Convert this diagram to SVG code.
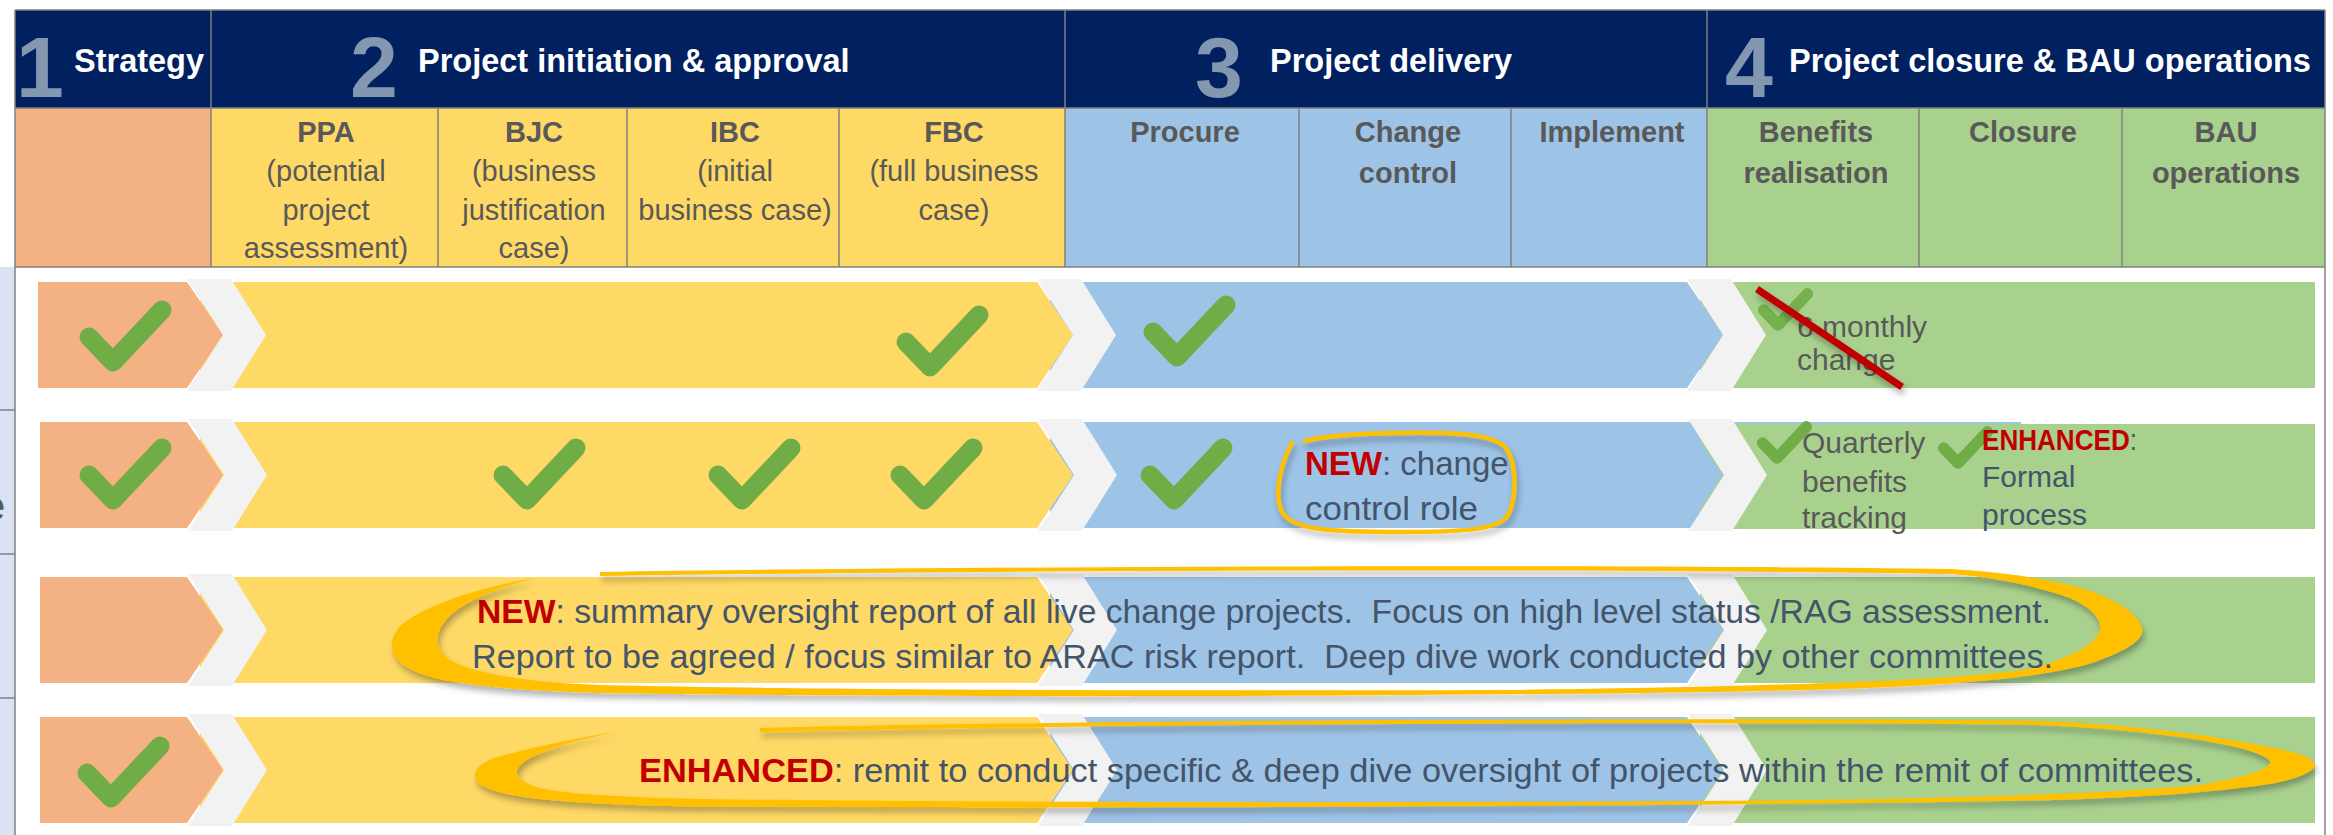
<svg xmlns="http://www.w3.org/2000/svg" width="2333" height="835" viewBox="0 0 2333 835">
<defs>
<style>
.t{font-family:'Liberation Sans',Arial,sans-serif}
.hd{font-size:32.5px;font-weight:bold;fill:#ffffff}
.num{font-size:86px;font-weight:bold;fill:#8497B0;text-anchor:middle}
.sb{font-size:29px;font-weight:bold;fill:#595959;text-anchor:middle}
.sr{font-size:29px;fill:#595959;text-anchor:middle}
.g{fill:#595959;font-size:30px}
.sl{fill:#44546A;font-size:30px}
.an{fill:#44546A;font-size:33px}
.red{fill:#C00000;font-weight:bold}
.ck{fill:none;stroke:#70AD47;stroke-width:19;stroke-linecap:round;stroke-linejoin:round}
.chev{fill:#F2F2F2}
.grid{stroke:#808080;stroke-width:1.5;fill:none}
.or{fill:#F4B183}.ye{fill:#FFD966}.bl{fill:#9DC3E6}.gr{fill:#A9D18E}
.brush{fill:#FFC000}
</style>
<path id="chk" d="M-24,-25 L0,0 L49,-52"/>
<filter id="sh" x="-10%" y="-30%" width="120%" height="170%">
<feDropShadow dx="2" dy="5" stdDeviation="3" flood-color="#000000" flood-opacity="0.3"/>
</filter>
</defs>

<rect width="2333" height="835" fill="#ffffff"/>

<!-- left side strip -->
<g id="side-strip">
<rect x="0" y="267" width="15" height="568" fill="#DAE3F3"/>
<line x1="0" y1="410" x2="15" y2="410" class="grid"/>
<line x1="0" y1="554" x2="15" y2="554" class="grid"/>
<line x1="0" y1="698" x2="15" y2="698" class="grid"/>
<text class="t" x="-17" y="520" font-size="40" fill="#595959">e</text>
</g>

<!-- header row -->
<g id="header">
<rect x="15" y="10" width="2310" height="98" fill="#002060"/>
<g id="phase1-title">
<text class="t num" x="40" y="97">1</text>
<text class="t hd" x="74" y="72">Strategy</text>
</g>
<g id="phase2-title">
<text class="t num" x="374" y="97">2</text>
<text class="t hd" x="418" y="72">Project initiation &amp; approval</text>
</g>
<g id="phase3-title">
<text class="t num" x="1219" y="97">3</text>
<text class="t hd" x="1270" y="72">Project delivery</text>
</g>
<g id="phase4-title">
<text class="t num" x="1749" y="97">4</text>
<text class="t hd" x="1789" y="72">Project closure &amp; BAU operations</text>
</g>
</g>

<!-- sub header -->
<g id="subheader">
<rect x="15" y="108" width="196" height="159" class="or"/>
<rect x="211" y="108" width="854" height="159" class="ye"/>
<rect x="1065" y="108" width="642" height="159" class="bl"/>
<rect x="1707" y="108" width="618" height="159" class="gr"/>
<g id="col-ppa">
<text class="t sb" x="326" y="142">PPA</text>
<text class="t sr" x="326" y="181">(potential</text>
<text class="t sr" x="326" y="220">project</text>
<text class="t sr" x="326" y="258">assessment)</text>
</g>
<g id="col-bjc">
<text class="t sb" x="534" y="142">BJC</text>
<text class="t sr" x="534" y="181">(business</text>
<text class="t sr" x="534" y="220">justification</text>
<text class="t sr" x="534" y="258">case)</text>
</g>
<g id="col-ibc">
<text class="t sb" x="735" y="142">IBC</text>
<text class="t sr" x="735" y="181">(initial</text>
<text class="t sr" x="735" y="220">business case)</text>
</g>
<g id="col-fbc">
<text class="t sb" x="954" y="142">FBC</text>
<text class="t sr" x="954" y="181">(full business</text>
<text class="t sr" x="954" y="220">case)</text>
</g>
<g id="col-procure">
<text class="t sb" x="1185" y="142">Procure</text>
</g>
<g id="col-change">
<text class="t sb" x="1408" y="142">Change</text>
<text class="t sb" x="1408" y="183">control</text>
</g>
<g id="col-implement">
<text class="t sb" x="1612" y="142">Implement</text>
</g>
<g id="col-benefits">
<text class="t sb" x="1816" y="142">Benefits</text>
<text class="t sb" x="1816" y="183">realisation</text>
</g>
<g id="col-closure">
<text class="t sb" x="2023" y="142">Closure</text>
</g>
<g id="col-bau">
<text class="t sb" x="2226" y="142">BAU</text>
<text class="t sb" x="2226" y="183">operations</text>
</g>
</g>

<!-- grid lines -->
<g id="grid">
<line x1="15" y1="10" x2="2325" y2="10" class="grid"/>
<line x1="15" y1="108" x2="2325" y2="108" class="grid"/>
<line x1="15" y1="267" x2="2325" y2="267" class="grid" stroke-width="2"/>
<line x1="15" y1="10" x2="15" y2="835" class="grid" stroke-width="2"/>
<line x1="2325" y1="10" x2="2325" y2="835" class="grid" stroke-width="2"/>
<line x1="211" y1="10" x2="211" y2="267" class="grid"/>
<line x1="1065" y1="10" x2="1065" y2="267" class="grid"/>
<line x1="1707" y1="10" x2="1707" y2="267" class="grid"/>
<line x1="438" y1="108" x2="438" y2="267" class="grid"/>
<line x1="627" y1="108" x2="627" y2="267" class="grid"/>
<line x1="839" y1="108" x2="839" y2="267" class="grid"/>
<line x1="1299" y1="108" x2="1299" y2="267" class="grid"/>
<line x1="1511" y1="108" x2="1511" y2="267" class="grid"/>
<line x1="1919" y1="108" x2="1919" y2="267" class="grid"/>
<line x1="2122" y1="108" x2="2122" y2="267" class="grid"/>
</g>

<!-- row 1 -->
<g id="row1">
<rect x="1700" y="282" width="615" height="106" class="gr"/>
<polygon points="1050,282 1687,282 1723,335 1687,388 1050,388" class="bl"/>
<polygon points="200,282 1037,282 1073,335 1037,388 200,388" class="ye"/>
<polygon points="38,282 187,282 223,335 187,388 38,388" class="or"/>
<polygon points="187,279 231,279 266,335 231,391 187,391 223,335" class="chev"/>
<polygon points="1037,279 1081,279 1116,335 1081,391 1037,391 1073,335" class="chev"/>
<polygon points="1687,279 1731,279 1766,335 1731,391 1687,391 1723,335" class="chev"/>
<use href="#chk" class="ck" x="113" y="362"/>
<use href="#chk" class="ck" x="930" y="367"/>
<use href="#chk" class="ck" x="1177" y="357"/>
<use href="#chk" class="ck" transform="translate(1778,325) scale(0.6)" opacity="0.9"/>
<text class="t g" x="1797" y="337">6 monthly</text>
<text class="t g" x="1797" y="370">change</text>
<line x1="1757" y1="289" x2="1902" y2="387" stroke="#C00000" stroke-width="7" filter="url(#sh)"/>
</g>

<!-- row 2 -->
<g id="row2">
<rect x="1050" y="422" width="971" height="106" class="bl"/>
<rect x="1700" y="424" width="615" height="105" class="gr"/>
<polygon points="1050,422 1687,422 1723,475 1687,528 1050,528" class="bl"/>
<polygon points="200,422 1037,422 1073,475 1037,528 200,528" class="ye"/>
<polygon points="40,422 187,422 223,475 187,528 40,528" class="or"/>
<polygon points="188,419 232,419 267,475 232,531 188,531 224,475" class="chev"/>
<polygon points="1038,419 1082,419 1117,475 1082,531 1038,531 1074,475" class="chev"/>
<polygon points="1688,419 1732,419 1767,475 1732,531 1688,531 1724,475" class="chev"/>
<use href="#chk" class="ck" x="113" y="500"/>
<use href="#chk" class="ck" x="527" y="500"/>
<use href="#chk" class="ck" x="742" y="500"/>
<use href="#chk" class="ck" x="924" y="500"/>
<use href="#chk" class="ck" x="1174" y="500"/>
<path d="M1292,443 C1280,465 1274,495 1282,512 C1292,530 1330,532 1400,532 C1460,532 1500,530 1508,515 C1518,495 1516,460 1505,447 C1490,432 1440,432 1392,433 C1350,434 1320,437 1305,441" fill="none" stroke="#FFC000" stroke-width="4.5" stroke-linecap="round" filter="url(#sh)"/>
<text class="t an" x="1305" y="475"><tspan class="red">NEW</tspan>: change</text>
<text class="t an" x="1305" y="520" textLength="173" lengthAdjust="spacingAndGlyphs">control role</text>
<use href="#chk" class="ck" transform="translate(1777,458) scale(0.6)"/>
<use href="#chk" class="ck" transform="translate(1958,463) scale(0.6)"/>
<text class="t g" x="1802" y="453">Quarterly</text>
<text class="t g" x="1802" y="492">benefits</text>
<text class="t g" x="1802" y="528">tracking</text>
<text class="t sl" x="1982" y="450" font-size="28" textLength="155" lengthAdjust="spacingAndGlyphs"><tspan class="red">ENHANCED</tspan>:</text>
<text class="t sl" x="1982" y="487">Formal</text>
<text class="t sl" x="1982" y="525">process</text>
</g>

<!-- row 3 -->
<g id="row3">
<rect x="1700" y="577" width="615" height="106" class="gr"/>
<polygon points="1050,577 1687,577 1723,630 1687,683 1050,683" class="bl"/>
<polygon points="200,577 1037,577 1073,630 1037,683 200,683" class="ye"/>
<polygon points="40,577 187,577 223,630 187,683 40,683" class="or"/>
<polygon points="188,574 232,574 267,630 232,686 188,686 224,630" class="chev"/>
<polygon points="1038,574 1082,574 1117,630 1082,686 1038,686 1074,630" class="chev"/>
<polygon points="1688,574 1732,574 1767,630 1732,686 1688,686 1724,630" class="chev"/>
<path class="brush" filter="url(#sh)" d="M536,578 C490,584 428,604 405,622 C388,636 388,652 402,664 C425,682 490,690 600,693 C900,698 1500,697 1806,690 C1930,687 2040,679 2092,663 C2130,650 2145,638 2142,628 C2138,612 2110,595 2070,585 C2030,576 1990,571 1950,569 C1600,564 1000,566 600,572 L600,576 C1000,570 1600,568 1950,574 C1995,577 2040,587 2070,598 C2092,608 2102,620 2100,630 C2097,642 2075,657 2030,669 C1950,682 1700,688 1500,690 C1200,691 800,690 600,685 C520,682 470,672 450,660 C432,648 434,630 452,614 C470,598 505,585 536,578 Z"/>
<text class="t an" x="477" y="623" textLength="1574" lengthAdjust="spacingAndGlyphs" xml:space="preserve"><tspan class="red">NEW</tspan>: summary oversight report of all live change projects.  Focus on high level status /RAG assessment.</text>
<text class="t an" x="472" y="668" textLength="1581" lengthAdjust="spacingAndGlyphs" xml:space="preserve">Report to be agreed / focus similar to ARAC risk report.  Deep dive work conducted by other committees.</text>
</g>

<!-- row 4 -->
<g id="row4">
<rect x="1700" y="717" width="615" height="106" class="gr"/>
<polygon points="1050,717 1687,717 1723,770 1687,823 1050,823" class="bl"/>
<polygon points="200,717 1037,717 1073,770 1037,823 200,823" class="ye"/>
<polygon points="40,717 187,717 223,770 187,823 40,823" class="or"/>
<polygon points="188,714 232,714 267,770 232,826 188,826 224,770" class="chev"/>
<polygon points="1038,714 1082,714 1117,770 1082,826 1038,826 1074,770" class="chev"/>
<polygon points="1688,714 1732,714 1767,770 1732,826 1688,826 1724,770" class="chev"/>
<use href="#chk" class="ck" x="111" y="798"/>
<path class="brush" filter="url(#sh)" d="M622,731 C580,737 520,750 495,758 C472,766 468,780 487,788 C510,798 560,803 670,806 C1100,810 1800,805 2053,800 C2150,797 2230,791 2275,783 C2300,778 2318,770 2314,763 C2310,756 2295,752 2275,748 C2240,741 2200,734 2140,728 C2100,724 2070,722 2040,721 C1700,717 1100,720 760,728 L760,732 C1100,724 1700,721 2040,725 C2120,728 2200,738 2240,748 C2262,754 2272,760 2270,763 C2268,770 2240,778 2200,785 C2100,795 1900,799 1806,800 C1500,803 1000,803 700,799 C610,797 560,793 540,788 C520,782 514,776 518,768 C526,755 570,740 622,731 Z"/>
<text class="t an" x="639" y="782" textLength="1564" lengthAdjust="spacingAndGlyphs"><tspan class="red">ENHANCED</tspan>: remit to conduct specific &amp; deep dive oversight of projects within the remit of committees.</text>
</g>

<g id="connectors"></g>
</svg>
